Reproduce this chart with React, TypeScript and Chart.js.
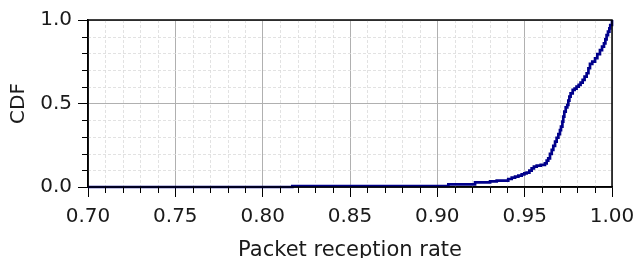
import React, { useEffect, useRef } from "react";
import { Chart, registerables } from "chart.js";

Chart.register(...registerables);

// Packet reception rate (x) and empirical CDF (y)
const prr = [
  0.7, 0.817, 0.9063, 0.9216, 0.9302, 0.934, 0.9406, 0.9426, 0.9445, 0.9464,
  0.9483, 0.9498, 0.9511, 0.9527, 0.954, 0.9553, 0.9569, 0.9592, 0.9616,
  0.9626, 0.9635, 0.9645, 0.9655, 0.9664, 0.9674, 0.9683, 0.9693, 0.9702,
  0.9708, 0.9716, 0.9721, 0.9727, 0.9735, 0.9744, 0.975, 0.9756, 0.9763,
  0.9775, 0.9786, 0.9797, 0.9809, 0.982, 0.9832, 0.9843, 0.9855, 0.9865,
  0.9874, 0.9887, 0.9903, 0.9916, 0.9931, 0.9943, 0.9954, 0.9962, 0.9969,
  0.9977, 0.9985, 0.999, 1.0,
];
const cdf = [
  0.0, 0.006, 0.016, 0.028, 0.034, 0.038, 0.048, 0.056, 0.062, 0.068, 0.076,
  0.082, 0.086, 0.098, 0.112, 0.122, 0.128, 0.132, 0.142, 0.158, 0.172, 0.198,
  0.222, 0.246, 0.272, 0.295, 0.317, 0.341, 0.361, 0.391, 0.421, 0.451, 0.477,
  0.491, 0.517, 0.541, 0.561, 0.581, 0.589, 0.601, 0.611, 0.625, 0.641, 0.661,
  0.681, 0.711, 0.737, 0.751, 0.771, 0.796, 0.82, 0.84, 0.86, 0.884, 0.91,
  0.93, 0.95, 0.97, 1.0,
];

const xMin = 0.7;
const xMax = 1.0;
const xMajorStep = 0.05;
const xMinorStep = 0.01;
const yMin = 0;
const yMax = 1;
const yMajorStep = 0.5;
const yMinorStep = 0.1;

const xTitle = "Packet reception rate";
const yTitle = "CDF";

const FONT = "'DejaVu Sans', sans-serif";
const TEXT = "#1a1a1a";

const minorPlugin = {
  id: "minorGridFrame",
  beforeDatasetsDraw(chart: any) {
    const { ctx, chartArea } = chart;
    const xs = chart.scales.x;
    const ys = chart.scales.y;
    ctx.save();
    ctx.strokeStyle = "#dadada";
    ctx.lineWidth = 0.8;
    ctx.setLineDash([3, 2]);
    const nx = Math.round((xMax - xMin) / xMinorStep);
    for (let i = 1; i < nx; i++) {
      if (i % Math.round(xMajorStep / xMinorStep) === 0) continue;
      const px = Math.round(xs.getPixelForValue(xMin + i * xMinorStep)) + 0.5;
      ctx.beginPath();
      ctx.moveTo(px, chartArea.top);
      ctx.lineTo(px, chartArea.bottom);
      ctx.stroke();
    }
    const ny = Math.round((yMax - yMin) / yMinorStep);
    for (let i = 1; i < ny; i++) {
      if (i % Math.round(yMajorStep / yMinorStep) === 0) continue;
      const py = Math.round(ys.getPixelForValue(yMin + i * yMinorStep)) + 0.5;
      ctx.beginPath();
      ctx.moveTo(chartArea.left, py);
      ctx.lineTo(chartArea.right, py);
      ctx.stroke();
    }
    ctx.restore();
  },
  afterDraw(chart: any) {
    const { ctx, chartArea } = chart;
    const xs = chart.scales.x;
    const ys = chart.scales.y;
    ctx.save();
    ctx.strokeStyle = "#000";
    ctx.lineWidth = 1;
    const nx = Math.round((xMax - xMin) / xMinorStep);
    for (let i = 1; i < nx; i++) {
      if (i % Math.round(xMajorStep / xMinorStep) === 0) continue;
      const px = Math.round(xs.getPixelForValue(xMin + i * xMinorStep)) + 0.5;
      ctx.beginPath();
      ctx.moveTo(px, chartArea.bottom);
      ctx.lineTo(px, chartArea.bottom + 6);
      ctx.stroke();
    }
    const ny = Math.round((yMax - yMin) / yMinorStep);
    for (let i = 1; i < ny; i++) {
      if (i % Math.round(yMajorStep / yMinorStep) === 0) continue;
      const py = Math.round(ys.getPixelForValue(yMin + i * yMinorStep)) + 0.5;
      ctx.beginPath();
      ctx.moveTo(chartArea.left, py);
      ctx.lineTo(chartArea.left - 6, py);
      ctx.stroke();
    }
    ctx.lineWidth = 1.5;
    ctx.strokeRect(
      chartArea.left,
      chartArea.top,
      chartArea.right - chartArea.left,
      chartArea.bottom - chartArea.top
    );
    ctx.restore();
  },
};

export default function App() {
  const ref = useRef<HTMLCanvasElement | null>(null);
  useEffect(() => {
    document.body.style.margin = "0";
    const canvas = ref.current;
    if (!canvas) return;
    const chart = new Chart(canvas, {
      type: "line",
      data: {
        datasets: [
          {
            data: prr.map((x, i) => ({ x, y: cdf[i] })),
            borderColor: "#00008b",
            borderWidth: 2.7,
            pointRadius: 0,
            stepped: true,
            fill: false,
            clip: false as any,
          },
        ],
      },
      options: {
        animation: false,
        responsive: false,
        devicePixelRatio: 1,
        layout: { padding: { left: 0, right: 25, top: 20, bottom: 0 } },
        plugins: { legend: { display: false }, tooltip: { enabled: false } },
        scales: {
          x: {
            type: "linear",
            min: xMin,
            max: xMax,
            afterFit(scale: any) {
              scale.height = 71;
              scale.paddingLeft = 0;
              scale.paddingRight = 0;
            },
            ticks: {
              stepSize: xMajorStep,
              maxRotation: 0,
              padding: 8,
              color: TEXT,
              font: { family: FONT, size: 20 },
              callback: (v: any) => Number(v).toFixed(2),
            },
            grid: {
              color: "#b0b0b0",
              lineWidth: 1,
              tickLength: 10,
              tickColor: "#000",
            },
            border: { display: true, color: "#000", width: 1.5 },
            title: {
              display: true,
              text: xTitle,
              color: TEXT,
              font: { family: FONT, size: 21, lineHeight: 1 },
              padding: { top: 0, bottom: -3 },
            },
          },
          y: {
            type: "linear",
            min: yMin,
            max: yMax,
            afterFit(scale: any) {
              scale.width = 88;
            },
            ticks: {
              stepSize: yMajorStep,
              padding: 6,
              color: TEXT,
              font: { family: FONT, size: 20 },
              callback: (v: any) => Number(v).toFixed(1),
            },
            grid: {
              color: "#b0b0b0",
              lineWidth: 1,
              tickLength: 10,
              tickColor: "#000",
            },
            border: { display: true, color: "#000", width: 1.5 },
            title: {
              display: true,
              text: yTitle,
              color: TEXT,
              font: { family: FONT, size: 20, lineHeight: 1 },
              padding: { top: 9, bottom: 0 },
            },
          },
        },
      },
      plugins: [minorPlugin],
    });
    return () => chart.destroy();
  }, []);
  return (
    <canvas
      ref={ref}
      width={637}
      height={258}
      style={{ display: "block", width: 637, height: 258 }}
    />
  );
}
